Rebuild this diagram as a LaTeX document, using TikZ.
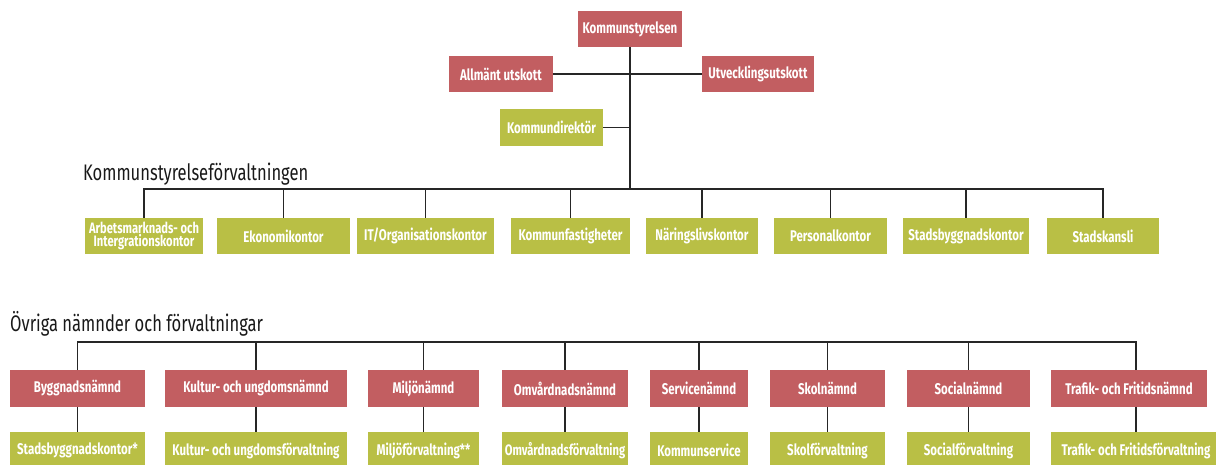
\documentclass[tikz,border=0pt]{standalone}
\usepackage{fontspec}
\setmainfont{Fira Sans}[FakeStretch=0.735]
\newfontfamily\boxfont{Fira Sans}[FakeStretch=0.74]
\definecolor{orgred}{RGB}{194,94,97}
\definecolor{orggreen}{RGB}{185,191,69}
\tikzset{
  box/.style={rectangle, inner sep=0pt, minimum height=36.5pt, text=white,
    font=\boxfont\bfseries\fontsize{15.5}{16}\selectfont, align=center},
  redbox/.style={box, fill=orgred},
  greenbox/.style={box, fill=orggreen},
  conn/.style={line width=1.8pt, draw=black!85},
  heading/.style={anchor=base west, inner sep=0pt, font=\fontsize{22.5}{24}\selectfont, text=black!90}
}
\begin{document}
\begin{tikzpicture}[x=1pt,y=-1pt]
\clip (0,0) rectangle (1216,464);
\fill[white] (0,0) rectangle (1216,464);
% top
\node[redbox, minimum width=104pt] (ks) at (630,29) {Kommunstyrelsen};
\node[redbox, minimum width=104pt] (au) at (501,74) {Allmänt utskott};
\node[redbox, minimum width=112pt] (uu) at (758,74) {Utvecklingsutskott};
\node[greenbox, minimum width=103pt] (kd) at (551.5,127.5) {Kommundirektör};
\coordinate (b1) at (630,189);
\draw[conn] (ks.south) -- (b1);
\draw[conn] (au.east) -- (uu.west);
\draw[conn] (kd.east) -- (kd.east -| ks.south);
% Kommunstyrelseförvaltningen
\node[heading] (h1) at (83,180) {Kommunstyrelseförvaltningen};
\node[greenbox, minimum width=118pt, font=\boxfont\bfseries\fontsize{15.1}{13.5}\selectfont] (r1) at (144,236) {Arbetsmarknads- och\\Intergrationskontor};
\node[greenbox, minimum width=133pt] (r2) at (283.5,236) {Ekonomikontor};
\node[greenbox, minimum width=137pt] (r3) at (425.5,236) {IT/Organisationskontor};
\node[greenbox, minimum width=119pt] (r4) at (570.5,236) {Kommunfastigheter};
\node[greenbox, minimum width=112pt] (r5) at (702,236) {Näringslivskontor};
\node[greenbox, minimum width=113pt] (r6) at (830.5,236) {Personalkontor};
\node[greenbox, minimum width=126pt] (r7) at (966,236) {Stadsbyggnadskontor};
\node[greenbox, minimum width=112pt] (r8) at (1103,236) {Stadskansli};
\draw[conn] (r1.north) -- (r1.north |- b1) -- (r8.north |- b1) -- (r8.north);
\foreach \n in {r2,r3,r4,r5,r6,r7} \draw[conn] (\n.north) -- (\n.north |- b1);
% Övriga
\node[heading] (h2) at (10,331) {Övriga nämnder och förvaltningar};
\coordinate (b2) at (630,342);
\node[redbox, minimum width=135pt] (n1) at (77.5,388.5) {Byggnadsnämnd};
\node[redbox, minimum width=182pt] (n2) at (256,388.5) {Kultur- och ungdomsnämnd};
\node[redbox, minimum width=111pt] (n3) at (423.5,388.5) {Miljönämnd};
\node[redbox, minimum width=126pt] (n4) at (565,388.5) {Omvårdnadsnämnd};
\node[redbox, minimum width=98pt] (n5) at (699,388.5) {Servicenämnd};
\node[redbox, minimum width=115pt] (n6) at (827.5,388.5) {Skolnämnd};
\node[redbox, minimum width=123pt] (n7) at (968.5,388.5) {Socialnämnd};
\node[redbox, minimum width=156pt] (n8) at (1129,388.5) {Trafik- och Fritidsnämnd};
\node[greenbox, minimum width=135pt] (g1) at (77.5,450.5) {Stadsbyggnadskontor*};
\node[greenbox, minimum width=182pt] (g2) at (256,450.5) {Kultur- och ungdomsförvaltning};
\node[greenbox, minimum width=111pt] (g3) at (423.5,450.5) {Miljöförvaltning**};
\node[greenbox, minimum width=126pt, font=\boxfont\bfseries\fontsize{15.1}{15}\selectfont] (g4) at (565,450.5) {Omvårdnadsförvaltning};
\node[greenbox, minimum width=98pt] (g5) at (699,450.5) {Kommunservice};
\node[greenbox, minimum width=115pt] (g6) at (827.5,450.5) {Skolförvaltning};
\node[greenbox, minimum width=123pt] (g7) at (968.5,450.5) {Socialförvaltning};
\node[greenbox, minimum width=170pt] (g8) at (1136,450.5) {Trafik- och Fritidsförvaltning};
\draw[conn] (n1.north) -- (n1.north |- b2) -- (g8.north |- b2) -- (g8.north |- n8.north);
\draw[conn] (n1.south) -- (g1.north);
\draw[conn] (g8.north |- n8.south) -- (g8.north);
\foreach \n/\m in {g2/n2,g3/n3,g4/n4,g5/n5,g6/n6,g7/n7} {
  \draw[conn] (\m.north |- b2) -- (\m.north);
  \draw[conn] (\m.south) -- (\n.north);
}
\end{tikzpicture}
\end{document}
